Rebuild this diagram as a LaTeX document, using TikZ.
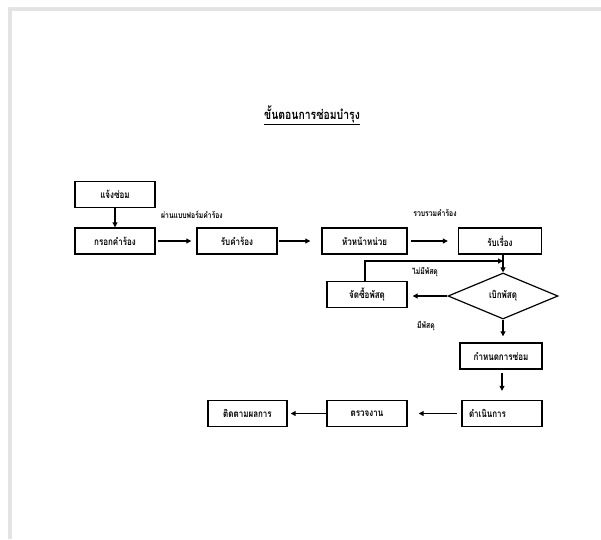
\documentclass[tikz,border=0pt]{standalone}
\usepackage{fontspec}
\usetikzlibrary{shapes.geometric,arrows.meta}
\newfontfamily\thaifont[Script=Thai, FakeStretch=0.8]{Loma}
\tikzset{
  box/.style={draw, line width=1.4pt, minimum width=80pt, minimum height=26pt, inner sep=0pt, font=\thaifont\bfseries\fontsize{10}{12}\selectfont},
  decide/.style={draw, line width=1.2pt, diamond, minimum width=110pt, minimum height=46pt, inner sep=0pt, font=\thaifont\bfseries\fontsize{10}{12}\selectfont},
  lbl/.style={font=\thaifont\bfseries\fontsize{8.5}{10}\selectfont, inner sep=0pt},
  arr/.style={line width=1.1pt, -{Triangle[length=5pt,width=5pt]}},
  ln/.style={line width=1.1pt}
}
\begin{document}
\begin{tikzpicture}[x=1pt,y=-1pt]
\useasboundingbox (0,0) rectangle (601,539);
\fill[white] (0,0) rectangle (601,539);
\fill[gray!22] (8,7) rectangle (601,11);
\fill[gray!22] (8,7) rectangle (12,539);
\node[font=\thaifont\bfseries\fontsize{13}{15}\selectfont, inner sep=0pt] (title) at (312,115) {\underline{ขั้นตอนการซ่อมบำรุง}};

\node[box] (jang) at (115,194.5) {แจ้งซ่อม};
\node[box] (krok) at (115,241) {กรอกคำร้อง};
\node[box] (rub) at (237,241) {รับคำร้อง};
\node[box, minimum width=85pt] (hua) at (364.5,241) {หัวหน้าหน่วย};
\node[box, minimum width=83pt] (rueang) at (500,241) {รับเรื่อง};
\node[decide] (bik) at (503,296) {เบิกพัสดุ};
\node[box] (jat) at (367,294.5) {จัดซื้อพัสดุ};
\node[box, minimum width=82pt] (kamnot) at (501,356) {กำหนดการซ่อม};
\node[box, text width=66pt, align=left] (damnoen) at (502,413.5) {ดำเนินการ};
\node[box] (truat) at (367,413.5) {ตรวจงาน};
\node[box, minimum width=79pt] (tittam) at (247.5,413.5) {ติดตามผลการ};

\node[lbl] (l1) at (192,215) {ผ่านแบบฟอร์มคำร้อง};
\node[lbl] (l2) at (435,213) {รวบรวมคำร้อง};
\node[lbl] (l3) at (425,272) {ไม่มีพัสดุ};
\node[lbl] (l4) at (426,326) {มีพัสดุ};

\coordinate (fb) at (503,261);

\draw[arr] (jang) -- (krok);
\draw[arr, shorten <=2pt, shorten >=5pt] (krok) -- (rub);
\draw[arr, shorten <=1pt, shorten >=11pt] (rub) -- (hua);
\draw[arr, shorten <=3pt, shorten >=10pt] (hua) -- (rueang);
\draw[arr] (rueang.south -| bik.north) -- (bik.north);
\draw[arr] (jat.north -| 365,0) -- (365,261) -- (fb);
\draw[arr, shorten >=5pt] (bik.west) -- (jat.east |- bik.west);
\draw[arr, shorten >=6pt] (bik.south) -- (kamnot.north -| bik.south);
\draw[arr, shorten <=3pt, shorten >=9pt] (kamnot.south -| damnoen.north) -- (damnoen.north);
\draw[arr, shorten <=4pt, shorten >=11pt] (damnoen.west) -- (truat.east);
\draw[arr, shorten >=3pt] (truat.west) -- (tittam.east);
\end{tikzpicture}
\end{document}
